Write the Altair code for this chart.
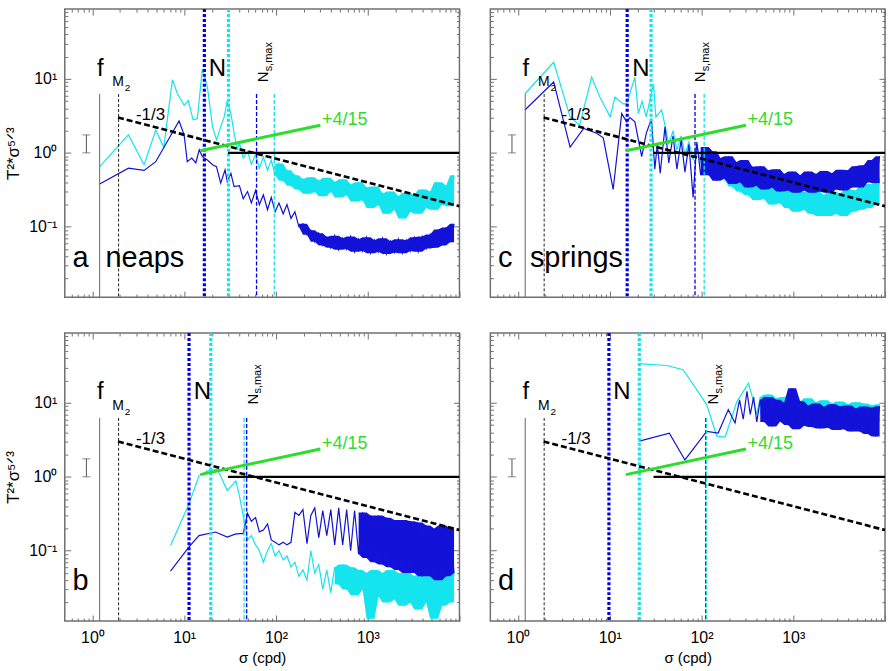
import altair as alt
import pandas as pd

# ---------------- axes ----------------
X_DOMAIN = [0.5, 10000]
Y_DOMAIN = [0.0112, 88]
X_MAJOR = [1, 10, 100, 1000]
X_MAJOR_TEXT = ["10⁰", "10¹", "10²", "10³"]
Y_MAJOR = [0.1, 1, 10]
Y_MAJOR_TEXT = ["10⁻¹", "10⁰", "10¹"]
X_TICKS = [0.6, 0.7, 0.8, 0.9, 1, 2, 3, 4, 5, 6, 7, 8, 9, 10, 20, 30, 40, 50, 60, 70, 80, 90,
           100, 200, 300, 400, 500, 600, 700, 800, 900, 1000, 2000, 3000, 4000, 5000, 6000,
           7000, 8000, 9000, 10000]
Y_TICKS = [0.02, 0.03, 0.04, 0.05, 0.06, 0.07, 0.08, 0.09, 0.1, 0.2, 0.3, 0.4, 0.5, 0.6, 0.7,
           0.8, 0.9, 1, 2, 3, 4, 5, 6, 7, 8, 9, 10, 20, 30, 40, 50, 60, 70, 80]
X_TITLE = "σ (cpd)"
Y_TITLE = "T²*σ⁵ᐟ³"

# ---------------- spectra ----------------
FREQ_GRID = [40, 44, 49, 54, 60, 66, 73, 81, 89, 98, 108, 120, 132, 146, 161, 178, 197, 218,
             240, 265, 293, 324, 358, 396, 437, 483, 534, 590, 652, 720, 796, 880, 972, 1074,
             1187, 1311, 1449, 1601, 1769, 1955, 2160, 2387, 2637, 2914, 3220, 3558, 3931,
             4344, 4800, 5304, 5860, 6476, 7155, 7906, 8736]

# panel a (neaps, upper)
A_CYAN_LOW_F = [1.2, 2.47, 3.66, 4.9, 6.0, 7.45, 8.45, 10, 11.1, 12.5, 13.9, 15.8, 17.9, 20.4,
                22.5, 25, 27.3, 29.5, 32.3, 35, 38]
A_CYAN_LOW_V = [0.65, 1.75, 0.69, 2.04, 1.2, 9.8, 6.3, 4.4, 5.1, 2.8, 2.9, 13.7, 7.8, 2.25,
                1.5, 2.25, 3.07, 5.1, 3.4, 1.85, 1.1]
A_CYAN_GRID_V = [1.36, 0.85, 1.05, 0.7, 0.95, 0.62, 0.88, 0.58, 0.8, 0.5,
                 0.72, 0.42, 0.58, 0.36, 0.5, 0.32, 0.44, 0.28, 0.47, 0.3,
                 0.42, 0.26, 0.46, 0.3, 0.4, 0.25, 0.44, 0.27, 0.37, 0.22,
                 0.4, 0.23, 0.34, 0.18, 0.35, 0.2, 0.28, 0.15, 0.3, 0.17,
                 0.26, 0.13, 0.29, 0.16, 0.27, 0.15, 0.32, 0.18, 0.3, 0.17,
                 0.4, 0.2, 0.36, 0.19, 0.5]
A_BLUE_LOW_F = [1.2, 2.47, 3.66, 4.9, 8.8, 10, 10.8, 12.1, 13.4, 14.6, 15.8, 17.9, 20.4, 22.5,
                25, 27.9, 29.5, 32.3, 35]
A_BLUE_LOW_V = [0.38, 0.62, 0.58, 0.76, 2.7, 1.74, 0.76, 0.85, 0.73, 1.1, 0.89, 0.8, 0.69,
                0.65, 0.39, 0.59, 0.41, 0.53, 0.35]
A_BLUE_GRID_V = [0.36, 0.24, 0.3, 0.21, 0.31, 0.2, 0.27, 0.17, 0.25, 0.16,
                 0.21, 0.15, 0.2, 0.13, 0.16, 0.1, 0.11, 0.078, 0.09, 0.063,
                 0.082, 0.056, 0.073, 0.052, 0.076, 0.049, 0.07, 0.05, 0.074, 0.046,
                 0.068, 0.047, 0.072, 0.044, 0.066, 0.046, 0.07, 0.043, 0.064, 0.045,
                 0.068, 0.044, 0.066, 0.047, 0.072, 0.046, 0.074, 0.051, 0.079, 0.052,
                 0.092, 0.056, 0.098, 0.062, 0.11]

# panel c (springs, upper)
C_CYAN_LOW_F = [1.19, 2.45, 3.7, 4.7, 6.35, 7.8, 10.1, 11.4, 14, 15.3, 18.8, 20.5, 22.5, 25,
                30, 31.8, 36.7]
C_CYAN_LOW_V = [6.3, 16.8, 3.07, 2.37, 10.6, 5.7, 3.07, 5.7, 4.6, 4.6, 10.6, 3.4, 5.0, 3.07,
                8.6, 3.07, 3.8]
C_CYAN_GRID_V = [2.4, 1.3, 2.0, 1.1, 1.7, 0.95, 1.4, 0.8, 1.3, 0.75,
                 1.05, 0.6, 0.95, 0.5, 0.75, 0.44, 0.6, 0.35, 0.52, 0.3,
                 0.44, 0.27, 0.43, 0.23, 0.38, 0.24, 0.36, 0.2, 0.36, 0.21,
                 0.31, 0.18, 0.33, 0.16, 0.3, 0.17, 0.29, 0.15, 0.3, 0.14,
                 0.27, 0.14, 0.3, 0.15, 0.28, 0.14, 0.32, 0.16, 0.31, 0.17,
                 0.37, 0.18, 0.38, 0.2, 0.45]
C_BLUE_LOW_F = [1.19, 2.45, 3.7, 5.2, 7.2, 8.5, 10.9, 13.5, 15.3, 16.6, 18.8, 22.3, 25, 28.5,
                31, 33, 35.5]
C_BLUE_LOW_V = [3.8, 9.1, 1.2, 2.14, 1.84, 1.6, 0.32, 3.4, 2.63, 3.0, 2.63, 0.89, 1.84, 2.9,
                0.6, 1.3, 0.53]
C_BLUE_GRID_V = [2.25, 0.73, 1.7, 0.6, 1.5, 0.55, 1.3, 0.25, 1.4, 0.5,
                 1.2, 0.5, 1.05, 0.42, 0.85, 0.45, 0.9, 0.38, 0.75, 0.4,
                 0.8, 0.34, 0.65, 0.36, 0.66, 0.32, 0.58, 0.34, 0.6, 0.3,
                 0.52, 0.31, 0.56, 0.29, 0.5, 0.31, 0.56, 0.29, 0.52, 0.3,
                 0.57, 0.29, 0.53, 0.32, 0.59, 0.31, 0.58, 0.34, 0.66, 0.34,
                 0.68, 0.4, 0.8, 0.39, 0.9]

# panel b (lower left)
B_CYAN_LOW_F = [7.1, 11.3, 14.5, 18, 23, 29.5, 36.6]
B_CYAN_LOW_V = [0.118, 0.43, 1.03, 1.2, 1.27, 0.65, 0.88]
B_CYAN_GRID_V = [0.55, 0.3, 0.14, 0.16, 0.12, 0.1, 0.07, 0.1, 0.125, 0.085,
                 0.1, 0.075, 0.085, 0.06, 0.07, 0.045, 0.055, 0.04, 0.1, 0.05,
                 0.065, 0.03, 0.055, 0.027, 0.06, 0.035, 0.065, 0.03, 0.06, 0.025,
                 0.055, 0.03, 0.05, 0.012, 0.055, 0.024, 0.05, 0.02, 0.055, 0.022,
                 0.05, 0.018, 0.05, 0.02, 0.045, 0.016, 0.05, 0.02, 0.045, 0.012,
                 0.05, 0.018, 0.045, 0.02, 0.05]
B_BLUE_LOW_F = [7.1, 11.3, 14.5, 22, 29.5, 36]
B_BLUE_LOW_V = [0.053, 0.113, 0.16, 0.179, 0.153, 0.168]
B_BLUE_GRID_V = [0.17, 0.17, 0.32, 0.25, 0.28, 0.18, 0.19, 0.23, 0.14, 0.13,
                 0.12, 0.13, 0.12, 0.13, 0.33, 0.3, 0.36, 0.125, 0.3, 0.38,
                 0.15, 0.35, 0.16, 0.36, 0.12, 0.38, 0.12, 0.36, 0.1, 0.35,
                 0.09, 0.33, 0.08, 0.3, 0.07, 0.3, 0.065, 0.28, 0.06, 0.26,
                 0.055, 0.26, 0.05, 0.25, 0.05, 0.24, 0.045, 0.22, 0.045, 0.2,
                 0.04, 0.22, 0.045, 0.2, 0.05]

# panel d (lower right) - grid part starts at FREQ_GRID[24] = 437
D_GRID_START = 24
D_CYAN_LOW_F = [20.5, 42, 63, 89, 114, 147, 181, 243, 325, 353, 400]
D_CYAN_LOW_V = [34, 32, 28, 15, 9.4, 3.55, 3.45, 10.4, 18.4, 12.8, 7.0]
D_CYAN_GRID_V = [12, 7, 13, 6.2, 11.5, 6.8, 12, 5.8, 12.5, 6.3, 10.5, 6.6, 11.5, 5.8, 10.2,
                 6.2, 10.8, 5.4, 9.8, 5.7, 10.4, 5.3, 9.6, 5.6, 10.2, 5.1, 9.8, 5.3, 9.3, 5.5,
                 9.6]
D_BLUE_LOW_F = [21, 44.6, 66, 114, 152, 196, 232, 260, 285, 313, 340, 370, 400]
D_BLUE_LOW_V = [3.04, 3.9, 1.69, 4.1, 3.9, 8.1, 5.35, 11, 6, 14.3, 7, 12, 5.5]
D_BLUE_GRID_V = [11, 5.5, 12, 4.8, 11, 5.6, 10, 5, 15.8, 4.4, 10.5, 4.9, 9.2, 4.7, 9.8, 4.5,
                 8.8, 4.6, 9.6, 4.3, 8.9, 4.4, 9.2, 4.1, 8.4, 4.1, 8.9, 3.8, 8.6, 3.5, 9]

# ---------------- reference lines and markers ----------------
F_INERTIAL = 1.2
F_M2 = 1.93
MARK_TOP = 6.25
N_BLUE = {"a": 16.6, "c": 15.5, "b": 11.3, "d": 9.8}
N_CYAN = {"a": 30.4, "c": 28.2, "b": 19.5, "d": 21}
NS_BLUE = {"a": 61.5, "c": 85, "b": 48, "d": 111}
NS_CYAN = {"a": 96, "c": 107, "b": 45, "d": 113}
SLOPE_M13_F = [1.9, 10000]
SLOPE_M13_V = [3.0, 0.19]
SLOPE_P415_F = [15, 305]
SLOPE_P415_V = [1.07, 2.37]
FLAT_F = [30, 10000]
FLAT_V = [1, 1]
ERR_F = 0.86
ERR_V = [1.0, 1.75]

# ---------------- text annotations ----------------
F_TEXT = (1.22, 11.1)
M2_TEXT = (1.65, 8.0)
N_TEXT_X = {"a": 23, "c": 21.9, "b": 15.8, "d": 13.6}
N_TEXT_V = 11.1
NS_TEXT_X = {"a": 81, "c": 109, "b": 63, "d": 151}
NS_TEXT_V = {"a": 9.0, "c": 9.0, "b": 9.5, "d": 9.5}
M13_TEXT = (4.3, 2.8)
P415_TEXT = (318, 2.4)
LETTER_F = 0.605
LETTER_V = {"a": 0.0286, "c": 0.0286, "b": 0.0295, "d": 0.0295}
WORD = {"a": ("neaps", 1.39), "c": ("springs", 1.35)}

# ---------------- style ----------------
W, H = 396, 289
CYAN = "#14E4EE"
BLUE = "#1212D8"
NBLUE = "#0000E8"
GREEN = "#2EDC2E"
FRAME = "#707070"
FONT = "Liberation Sans"

XS = alt.Scale(type="log", domain=X_DOMAIN, nice=False)
YS = alt.Scale(type="log", domain=Y_DOMAIN, nice=False)
MAJOR_TEST = "abs(log(datum.value)/LN10 - round(log(datum.value)/LN10)) < 0.001"


def label_expr(vals, texts):
    parts = [f"abs(datum.value-{v})<{v * 1e-6}?'{t}'" for v, t in zip(vals, texts)]
    return " : ".join(parts) + " : ''"


def tick_size():
    return {"condition": {"test": MAJOR_TEST, "value": 6}, "value": 3}


def X(field="f"):
    return alt.X(f"{field}:Q", scale=XS, axis=None)


def Y(field="v"):
    return alt.Y(f"{field}:Q", scale=YS, axis=None)


ANCHOR = pd.DataFrame({"f": [1.0], "v": [1.0]})


def axis_layers(show_x, show_y):
    xkw = dict(orient="bottom", values=X_MAJOR, labels=show_x, ticks=False, domain=False,
               grid=False, labelFont=FONT, labelFontSize=16, labelColor="black",
               labelPadding=9, labelExpr=label_expr(X_MAJOR, X_MAJOR_TEXT),
               titleFont=FONT, titleFontSize=15, titleFontWeight="normal",
               titleColor="black", titlePadding=5)
    xkw["title"] = X_TITLE if show_x else None
    ykw = dict(orient="left", values=Y_MAJOR, labels=show_y, ticks=False, domain=False,
               grid=False, labelFont=FONT, labelFontSize=16, labelColor="black",
               labelPadding=8, labelExpr=label_expr(Y_MAJOR, Y_MAJOR_TEXT),
               titleFont=FONT, titleFontSize=17, titleFontWeight="normal",
               titleColor="black", titlePadding=6)
    ykw["title"] = Y_TITLE if show_y else None
    main = alt.Chart(ANCHOR).mark_point(opacity=0).encode(
        x=alt.X("f:Q", scale=XS, axis=alt.Axis(**xkw)),
        y=alt.Y("v:Q", scale=YS, axis=alt.Axis(**ykw)))
    tick_common = dict(labels=False, domain=False, grid=False, title=None,
                       tickColor=FRAME, tickWidth=1, tickSize=tick_size())
    inner1 = alt.Chart(ANCHOR).mark_point(opacity=0).encode(
        x=alt.X("f:Q", scale=XS, axis=alt.Axis(orient="top", offset=-H, values=X_TICKS, **tick_common)),
        y=alt.Y("v:Q", scale=YS, axis=alt.Axis(orient="right", offset=-W, values=Y_TICKS, **tick_common)))
    inner2 = alt.Chart(ANCHOR).mark_point(opacity=0).encode(
        x=alt.X("f:Q", scale=XS, axis=alt.Axis(orient="bottom", offset=-H, values=X_TICKS, **tick_common)),
        y=alt.Y("v:Q", scale=YS, axis=alt.Axis(orient="left", offset=-W, values=Y_TICKS, **tick_common)))
    return [main, inner1, inner2]


def spectrum_layers(low_f, low_v, grid_v, grid_start, band_start, color, width):
    f = list(low_f) + FREQ_GRID[grid_start:grid_start + len(grid_v)]
    v = list(low_v) + list(grid_v)
    df = pd.DataFrame({"f": f, "v": v, "i": list(range(len(f)))})
    band = alt.Chart(df).transform_filter(alt.datum.f >= band_start).transform_window(
        lo="min(v)", hi="max(v)", frame=[-1, 1], sort=[{"field": "f"}]
    ).mark_area(color=color, opacity=1, clip=True, orient="vertical").encode(
        x=X(), y=Y("lo"), y2=alt.Y2("hi:Q"))
    line = alt.Chart(df).mark_line(color=color, strokeWidth=width, clip=True).encode(
        x=X(), y=Y(), order="i:Q")
    return [band, line]


def text_layer(f, v, t, **kw):
    df = pd.DataFrame({"f": [f], "v": [v], "t": [t]})
    params = dict(font=FONT, color="black", align="left", baseline="alphabetic")
    params.update(kw)
    return alt.Chart(df).mark_text(**params).encode(x=X(), y=Y(), text="t:N")


def panel(key, cyan, blue, show_x, show_y):
    layers = axis_layers(show_x, show_y)
    layers += spectrum_layers(*cyan, CYAN, 1.2)
    layers += spectrum_layers(*blue, BLUE, 1.2)
    # f and M2 markers
    fdf = pd.DataFrame({"f": [F_INERTIAL], "v": [MARK_TOP]})
    layers.append(alt.Chart(fdf).mark_rule(color="#666666", strokeWidth=1).encode(
        x=X(), y=Y(), y2=alt.value(H)))
    mdf = pd.DataFrame({"f": [F_M2], "v": [MARK_TOP]})
    layers.append(alt.Chart(mdf).mark_rule(color="#222222", strokeWidth=1, strokeDash=[3, 2]).encode(
        x=X(), y=Y(), y2=alt.value(H)))
    # buoyancy frequency lines
    for val, col in ((N_BLUE[key], NBLUE), (N_CYAN[key], CYAN)):
        ndf = pd.DataFrame({"f": [val]})
        layers.append(alt.Chart(ndf).mark_rule(color=col, strokeWidth=3.2, strokeDash=[3, 2]).encode(x=X()))
    for val, col in ((NS_BLUE[key], NBLUE), (NS_CYAN[key], CYAN)):
        ndf = pd.DataFrame({"f": [val], "v": [MARK_TOP]})
        layers.append(alt.Chart(ndf).mark_rule(color=col, strokeWidth=1.3, strokeDash=[4, 2]).encode(
            x=X(), y=Y(), y2=alt.value(H)))
    # error bar
    edf = pd.DataFrame({"f": [ERR_F], "v": [ERR_V[0]], "v2": [ERR_V[1]]})
    layers.append(alt.Chart(edf).mark_rule(color="#555555", strokeWidth=1).encode(
        x=X(), y=Y(), y2=alt.Y2("v2:Q")))
    cdf = pd.DataFrame({"f": [ERR_F, ERR_F], "v": ERR_V})
    layers.append(alt.Chart(cdf).mark_tick(color="#555555", orient="horizontal", size=8,
                                           thickness=1).encode(x=X(), y=Y()))
    # slopes
    sdf = pd.DataFrame({"f": SLOPE_M13_F, "v": SLOPE_M13_V})
    layers.append(alt.Chart(sdf).mark_line(color="black", strokeWidth=2.6, strokeDash=[6, 3],
                                           clip=True).encode(x=X(), y=Y()))
    hdf = pd.DataFrame({"f": FLAT_F, "v": FLAT_V})
    layers.append(alt.Chart(hdf).mark_line(color="black", strokeWidth=2.2, clip=True).encode(x=X(), y=Y()))
    gdf = pd.DataFrame({"f": SLOPE_P415_F, "v": SLOPE_P415_V})
    layers.append(alt.Chart(gdf).mark_line(color=GREEN, strokeWidth=3).encode(x=X(), y=Y()))
    # texts
    layers.append(text_layer(F_TEXT[0], F_TEXT[1], "f", fontSize=24, align="center"))
    layers.append(text_layer(M2_TEXT[0], M2_TEXT[1], "M", fontSize=14))
    layers.append(text_layer(M2_TEXT[0], M2_TEXT[1], "2", fontSize=10, dx=12.5, dy=5))
    layers.append(text_layer(N_TEXT_X[key], N_TEXT_V, "N", fontSize=24, align="center"))
    layers.append(text_layer(NS_TEXT_X[key], NS_TEXT_V[key], "N", fontSize=15, angle=270))
    layers.append(text_layer(NS_TEXT_X[key], NS_TEXT_V[key], "s,max", fontSize=11, angle=270,
                             dx=11, dy=4))
    layers.append(text_layer(M13_TEXT[0], M13_TEXT[1], "-1/3", fontSize=17, align="center"))
    layers.append(text_layer(P415_TEXT[0], P415_TEXT[1], "+4/15", fontSize=18, color=GREEN))
    layers.append(text_layer(LETTER_F, LETTER_V[key], key, fontSize=29))
    if key in WORD:
        layers.append(text_layer(WORD[key][1], LETTER_V[key], WORD[key][0], fontSize=29))
    return alt.layer(*layers).resolve_axis(x="independent", y="independent").properties(
        width=W, height=H)


pa = panel("a", (A_CYAN_LOW_F, A_CYAN_LOW_V, A_CYAN_GRID_V, 0, 98),
           (A_BLUE_LOW_F, A_BLUE_LOW_V, A_BLUE_GRID_V, 0, 178), False, True)
pc = panel("c", (C_CYAN_LOW_F, C_CYAN_LOW_V, C_CYAN_GRID_V, 0, 98),
           (C_BLUE_LOW_F, C_BLUE_LOW_V, C_BLUE_GRID_V, 0, 98), False, False)
pb = panel("b", (B_CYAN_LOW_F, B_CYAN_LOW_V, B_CYAN_GRID_V, 0, 437),
           (B_BLUE_LOW_F, B_BLUE_LOW_V, B_BLUE_GRID_V, 0, 796), True, True)
pd_ = panel("d", (D_CYAN_LOW_F, D_CYAN_LOW_V, D_CYAN_GRID_V, D_GRID_START, 437),
            (D_BLUE_LOW_F, D_BLUE_LOW_V, D_BLUE_GRID_V, D_GRID_START, 437), True, False)

chart = alt.vconcat(
    alt.hconcat(pa, pc, spacing=27),
    alt.hconcat(pb, pd_, spacing=27),
    spacing=30,
).properties(
    padding={"left": 4, "top": 5, "right": 1, "bottom": 2},
    background="white",
).configure_view(stroke=FRAME, strokeWidth=1.5)

chart.save("out.html", embed_options={"renderer": "svg", "actions": False})
